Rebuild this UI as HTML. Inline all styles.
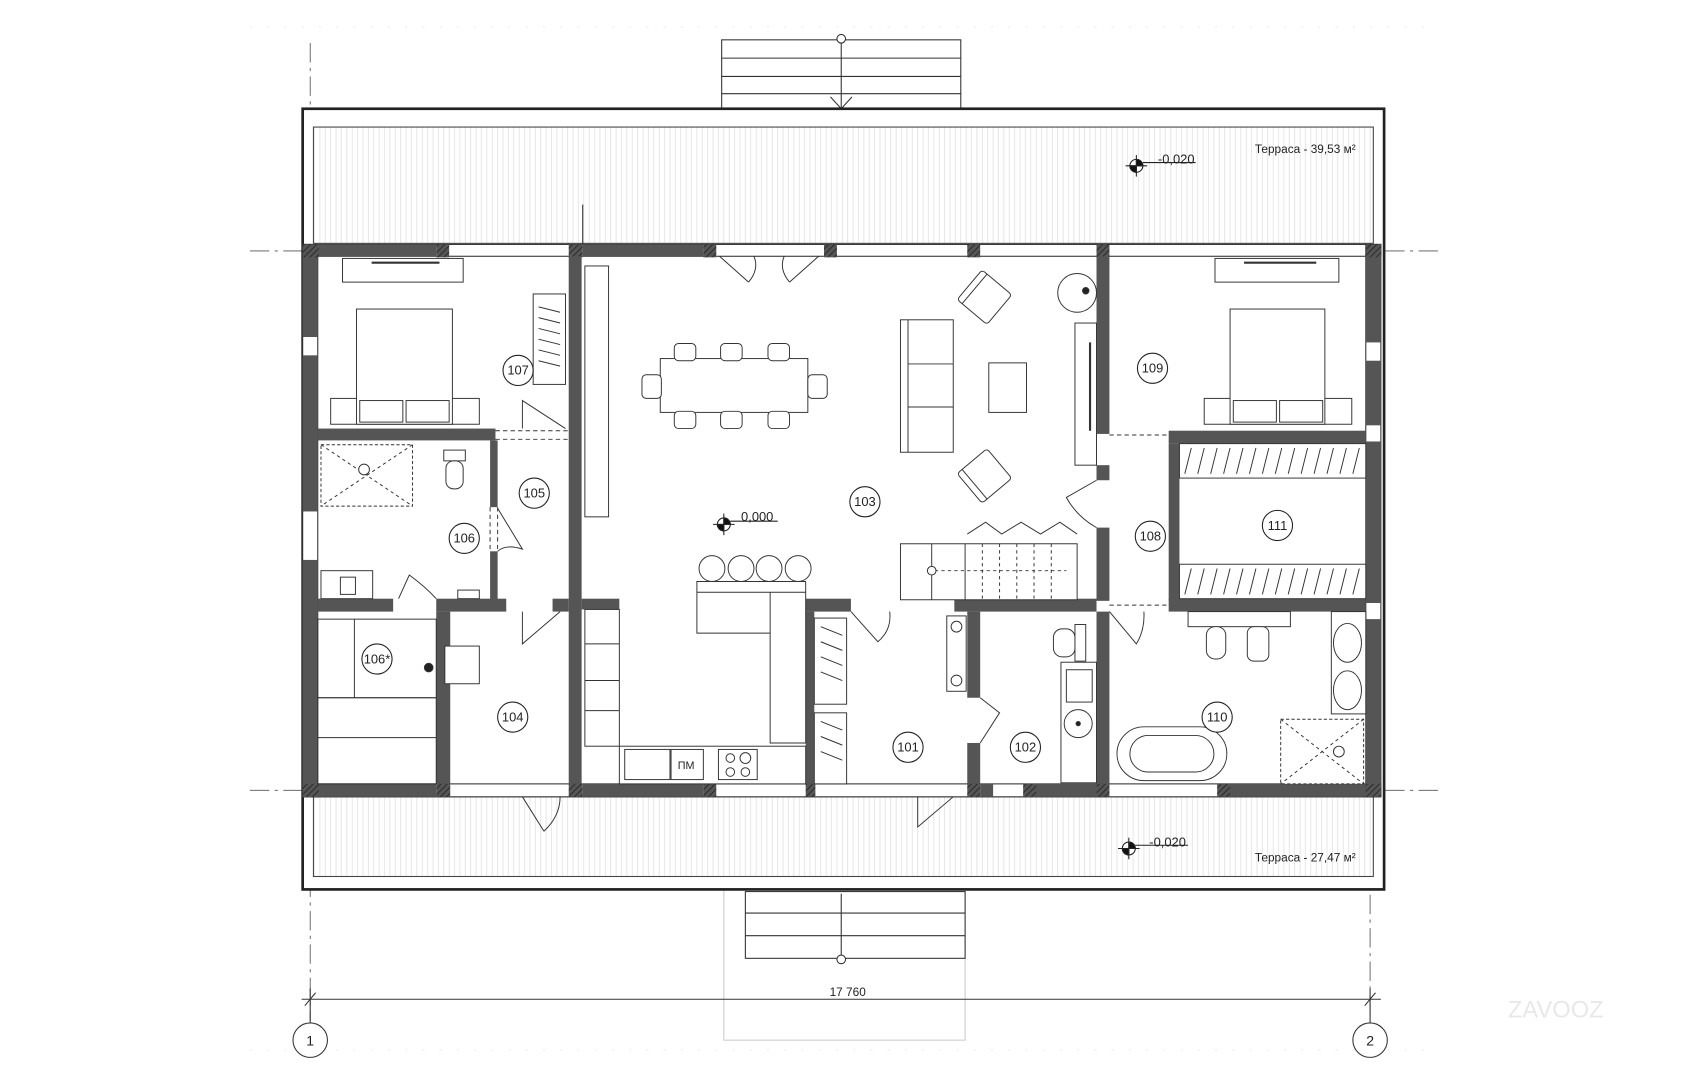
<!DOCTYPE html>
<html><head><meta charset="utf-8"><style>
html,body{margin:0;padding:0;background:#fff;width:1690px;height:1080px;overflow:hidden}
svg{display:block}
text{font-family:"Liberation Sans",sans-serif;fill:#222}
</style></head><body>
<svg width="1690" height="1080" viewBox="0 0 1569 1003" preserveAspectRatio="none" xmlns="http://www.w3.org/2000/svg">
<defs>
<pattern id="vh" width="5" height="10" patternUnits="userSpaceOnUse"><line x1="2" y1="0" x2="2" y2="10" stroke="#ddd" stroke-width="0.7"/></pattern>
<pattern id="hat" width="4" height="4" patternUnits="userSpaceOnUse" patternTransform="rotate(45)"><rect width="4" height="4" fill="#555"/><line x1="0" y1="0" x2="0" y2="4" stroke="#222" stroke-width="1.5"/></pattern>
</defs>
<rect width="1569" height="1003" fill="#fff"/>
<g stroke="#eee" stroke-width="1" stroke-dasharray="2 14">
<line x1="232" y1="25" x2="1330" y2="25"/><line x1="232" y1="975" x2="1330" y2="975"/>
</g>
<g stroke="#555" stroke-width="0.8" stroke-dasharray="18 5 3 5" fill="none">
<line x1="232" y1="233" x2="1335" y2="233"/><line x1="232" y1="734" x2="1335" y2="734"/>
<line x1="288" y1="40" x2="288" y2="948"/><line x1="1272" y1="800" x2="1272" y2="948"/>
</g>
<g stroke="#333" stroke-width="1" fill="#fff">
<rect x="670" y="37" width="222" height="64"/>
<line x1="670" y1="54" x2="892" y2="54"/><line x1="670" y1="71" x2="892" y2="71"/><line x1="670" y1="87" x2="892" y2="87"/>
<line x1="781" y1="40" x2="781" y2="101"/><circle cx="781" cy="36" r="4"/>
<polyline points="771,90 781,101 791,90" fill="none"/>
</g>
<g stroke="#333" stroke-width="1" fill="#fff">
<rect x="672" y="826" width="224" height="140" stroke="#ccc"/>
<rect x="692" y="828" width="204" height="62"/>
<line x1="692" y1="848" x2="896" y2="848"/><line x1="692" y1="869" x2="896" y2="869"/>
<line x1="781" y1="830" x2="781" y2="887"/><circle cx="781" cy="891" r="4"/>
</g>
<rect x="281" y="101" width="1004" height="725" fill="#fff" stroke="#222" stroke-width="2.5"/>
<rect x="291" y="118" width="984" height="108" fill="url(#vh)" stroke="#444" stroke-width="1"/>
<rect x="291" y="740" width="984" height="74" fill="url(#vh)" stroke="#444" stroke-width="1"/>
<line x1="541" y1="190" x2="541" y2="228" stroke="#333"/>
<rect x="281" y="228" width="1001" height="512" fill="#fff"/>
<g fill="#fff" stroke="#333" stroke-width="1">
<rect x="281" y="227" width="1001" height="11"/>
<rect x="281" y="728" width="1001" height="12"/>
<rect x="281" y="227" width="14" height="513"/>
<rect x="1268" y="227" width="14" height="513"/>
</g>
<g fill="#555">
<rect x="295" y="227" width="110" height="11"/><rect x="541" y="227" width="112" height="11"/>
<rect x="281" y="238" width="14" height="75"/><rect x="281" y="330" width="14" height="145"/><rect x="281" y="520" width="14" height="220"/>
<rect x="1268" y="238" width="14" height="80"/><rect x="1268" y="335" width="14" height="60"/><rect x="1268" y="410" width="14" height="150"/><rect x="1268" y="575" width="14" height="165"/>
<rect x="541" y="728" width="112" height="12"/>
<rect x="295" y="728" width="110" height="12"/>
<rect x="910" y="728" width="12" height="12"/>
<rect x="1140" y="728" width="128" height="12"/><rect x="950" y="728" width="68" height="12"/>
</g>
<g fill="url(#hat)">
<rect x="281" y="227" width="15" height="12"/><rect x="405" y="227" width="12" height="12"/><rect x="528" y="227" width="13" height="12"/>
<rect x="653" y="227" width="12" height="12"/><rect x="765" y="227" width="12" height="12"/><rect x="898" y="227" width="12" height="12"/>
<rect x="1018" y="227" width="12" height="12"/><rect x="1268" y="227" width="14" height="12"/>
<rect x="281" y="728" width="15" height="12"/><rect x="405" y="728" width="13" height="12"/><rect x="528" y="728" width="13" height="12"/>
<rect x="653" y="728" width="12" height="12"/><rect x="748" y="728" width="9" height="12"/><rect x="898" y="728" width="12" height="12"/>
<rect x="950" y="728" width="12" height="12"/><rect x="1018" y="728" width="12" height="12"/><rect x="1130" y="728" width="12" height="12"/><rect x="1268" y="728" width="14" height="12"/>
</g>
<g fill="#555">
<rect x="528" y="238" width="12" height="490"/>
<rect x="295" y="398" width="165" height="11"/>
<rect x="455" y="409" width="7" height="62"/><rect x="455" y="512" width="7" height="46"/>
<rect x="295" y="556" width="70" height="12"/><rect x="405" y="556" width="65" height="12"/><rect x="513" y="556" width="15" height="12"/>
<rect x="405" y="568" width="13" height="160"/>
<rect x="540" y="556" width="35" height="10"/>
<rect x="748" y="556" width="42" height="12"/><rect x="886" y="556" width="132" height="12"/>
<rect x="748" y="568" width="8" height="160"/>
<rect x="898" y="568" width="12" height="80"/><rect x="898" y="690" width="12" height="38"/>
<rect x="1018" y="238" width="12" height="165"/><rect x="1018" y="432" width="12" height="14"/><rect x="1018" y="490" width="12" height="68"/><rect x="1018" y="568" width="12" height="160"/>
<rect x="1085" y="400" width="183" height="12"/><rect x="1085" y="412" width="10" height="146"/>
<rect x="1085" y="556" width="183" height="12"/>
</g>
<g stroke="#333" stroke-width="0.9" fill="none" stroke-dasharray="4 3">
<line x1="460" y1="400" x2="528" y2="400"/><line x1="460" y1="408" x2="528" y2="408"/>
<line x1="1030" y1="404" x2="1085" y2="404"/><line x1="1030" y1="562" x2="1085" y2="562"/>
<line x1="455" y1="471" x2="455" y2="512"/><line x1="462" y1="471" x2="462" y2="512"/>
</g>
<g stroke="#333" stroke-width="0.9" fill="none">
<path d="M668 238 L695 262 M695 262 Q705 250 700 238"/><path d="M760 238 L733 262 M733 262 Q723 250 728 238"/>
<path d="M485 398 L485 372 L525 398"/><path d="M462 472 L485 510 Q470 505 462 512"/>
<path d="M370 556 L380 534 Q395 545 405 556"/><path d="M485 568 L485 598 L520 568"/>
<path d="M790 568 L815 596 Q828 585 826 568"/><path d="M910 648 L928 662 L910 690"/>
<path d="M1030 568 L1055 598 Q1063 585 1062 568"/>
<path d="M1018 446 L990 462 Q1000 480 1018 490"/>
<path d="M485 740 L505 772 M505 772 Q520 758 520 740"/><path d="M852 740 L852 768 L885 740"/>
<path d="M898 496 L915 485 L930 496 L948 485 L966 496 L984 485 L1000 496"/>
</g>
<g stroke="#333" stroke-width="0.9" fill="#fff">
<rect x="318" y="240" width="112" height="22"/><line x1="345" y1="244" x2="408" y2="244" stroke-width="2"/>
<rect x="307" y="370" width="138" height="24"/>
<rect x="331" y="287" width="89" height="107"/>
<rect x="334" y="372" width="40" height="20"/><rect x="377" y="372" width="40" height="20"/>
<rect x="495" y="273" width="30" height="84"/>
<path d="M500 285 L520 290 M500 295 L520 300 M500 305 L520 310 M500 315 L520 320 M500 325 L520 330 M500 335 L520 340"/>
<rect x="298" y="413" width="85" height="57" stroke-dasharray="3 2"/><path d="M298 413 L383 470 M383 413 L298 470" stroke-dasharray="3 3"/>
<circle cx="338" cy="436" r="5"/>
<rect x="412" y="418" width="20" height="10"/><rect x="414" y="428" width="16" height="26" rx="7"/>
<rect x="298" y="530" width="48" height="26"/><rect x="316" y="536" width="14" height="16"/>
<rect x="425" y="548" width="20" height="8"/>
<rect x="295" y="575" width="110" height="73" fill="none"/><line x1="329" y1="575" x2="329" y2="648"/>
<rect x="295" y="648" width="110" height="80" fill="none"/><line x1="295" y1="685" x2="405" y2="685"/>
<rect x="413" y="600" width="32" height="35"/><circle cx="398" cy="620" r="4" fill="#222"/>
</g>
<g stroke="#333" stroke-width="0.9" fill="#fff">
<rect x="543" y="247" width="22" height="233"/>
<rect x="613" y="333" width="137" height="50"/>
<g><rect x="626" y="319" width="20" height="16" rx="4"/><rect x="669" y="319" width="20" height="16" rx="4"/><rect x="713" y="319" width="20" height="16" rx="4"/>
<rect x="626" y="382" width="20" height="16" rx="4"/><rect x="669" y="382" width="20" height="16" rx="4"/><rect x="713" y="382" width="20" height="16" rx="4"/>
<rect x="596" y="348" width="18" height="22" rx="4"/><rect x="750" y="348" width="18" height="22" rx="4"/></g>
<rect x="836" y="297" width="49" height="123"/><line x1="843" y1="297" x2="843" y2="420"/><line x1="843" y1="338" x2="885" y2="338"/><line x1="843" y1="378" x2="885" y2="378"/>
<rect x="918" y="337" width="35" height="46"/>
<g transform="rotate(40 914 276)"><rect x="896" y="258" width="36" height="36" rx="3"/><line x1="902" y1="258" x2="902" y2="294"/></g>
<g transform="rotate(-40 914 442)"><rect x="896" y="424" width="36" height="36" rx="3"/><line x1="902" y1="424" x2="902" y2="460"/></g>
<circle cx="1000" cy="272" r="18"/><circle cx="1008" cy="270" r="3" fill="#222"/>
<rect x="998" y="300" width="20" height="132"/><line x1="1012" y1="318" x2="1012" y2="400" stroke-width="2"/>
<rect x="836" y="505" width="164" height="52"/><line x1="865" y1="505" x2="865" y2="557"/><line x1="896" y1="505" x2="896" y2="557"/>
<path d="M912 505 V557 M928 505 V557 M944 505 V557 M960 505 V557 M976 505 V557" stroke-dasharray="3 3"/>
<line x1="868" y1="530" x2="990" y2="530" stroke-dasharray="3 3"/><circle cx="865" cy="530" r="4"/>
<path d="M647 540 H748 V690 H715 V588 H647 Z"/><line x1="647" y1="550" x2="748" y2="550"/><line x1="715" y1="550" x2="715" y2="588"/>
<circle cx="661" cy="528" r="12"/><circle cx="688" cy="528" r="12"/><circle cx="714" cy="528" r="12"/><circle cx="741" cy="528" r="12"/>
<rect x="543" y="566" width="32" height="127"/><line x1="543" y1="598" x2="575" y2="598"/><line x1="543" y1="632" x2="575" y2="632"/><line x1="543" y1="660" x2="575" y2="660"/>
<rect x="575" y="693" width="173" height="35"/>
<rect x="580" y="696" width="42" height="28"/><rect x="623" y="696" width="30" height="28"/><rect x="667" y="696" width="36" height="28"/>
<circle cx="678" cy="704" r="4"/><circle cx="692" cy="704" r="5"/><circle cx="678" cy="717" r="4"/><circle cx="692" cy="717" r="4"/>
<rect x="756" y="574" width="30" height="80"/><rect x="756" y="662" width="30" height="66"/>
<path d="M762 582 L782 590 M762 596 L782 604 M762 610 L782 618 M762 624 L782 632 M762 670 L782 678 M762 684 L782 692 M762 698 L782 706"/>
<rect x="879" y="572" width="18" height="70"/><circle cx="888" cy="582" r="5"/><circle cx="888" cy="632" r="5"/>
<rect x="978" y="584" width="20" height="26" rx="8"/><rect x="998" y="580" width="10" height="34"/>
<rect x="985" y="615" width="33" height="112"/><rect x="990" y="622" width="24" height="30"/><circle cx="1001" cy="672" r="13"/><circle cx="1001" cy="672" r="2" fill="#222"/>
<rect x="1128" y="240" width="115" height="22"/><line x1="1155" y1="244" x2="1222" y2="244" stroke-width="2"/>
<rect x="1118" y="370" width="137" height="24"/><rect x="1142" y="287" width="88" height="107"/>
<rect x="1145" y="372" width="40" height="20"/><rect x="1188" y="372" width="40" height="20"/>
<rect x="1095" y="412" width="173" height="32"/><rect x="1095" y="524" width="173" height="32"/>
<path d="M1100 440 L1106 416 M1112 440 L1118 416 M1124 440 L1130 416 M1136 440 L1142 416 M1148 440 L1154 416 M1160 440 L1166 416 M1172 440 L1178 416 M1184 440 L1190 416 M1196 440 L1202 416 M1208 440 L1214 416 M1220 440 L1226 416 M1232 440 L1238 416 M1244 440 L1250 416 M1256 440 L1262 416"/>
<path d="M1100 552 L1106 528 M1112 552 L1118 528 M1124 552 L1130 528 M1136 552 L1142 528 M1148 552 L1154 528 M1160 552 L1166 528 M1172 552 L1178 528 M1184 552 L1190 528 M1196 552 L1202 528 M1208 552 L1214 528 M1220 552 L1226 528 M1232 552 L1238 528 M1244 552 L1250 528 M1256 552 L1262 528"/>
<rect x="1103" y="568" width="95" height="14"/>
<rect x="1120" y="582" width="18" height="30" rx="8"/><rect x="1158" y="582" width="20" height="32" rx="6"/>
<rect x="1236" y="568" width="32" height="95"/><ellipse cx="1251" cy="597" rx="13" ry="18"/><ellipse cx="1251" cy="641" rx="13" ry="18"/>
<rect x="1189" y="668" width="77" height="60" stroke-dasharray="3 2"/><path d="M1189 668 L1266 728 M1266 668 L1189 728" stroke-dasharray="3 3"/><circle cx="1243" cy="698" r="5"/>
<rect x="1037" y="675" width="102" height="50" rx="25"/><rect x="1049" y="683" width="78" height="34" rx="17"/>
</g>
<g fill="#fff" stroke="#222" stroke-width="1">
<circle cx="481" cy="344" r="14"/><circle cx="496" cy="458" r="14"/><circle cx="431" cy="500" r="14"/><circle cx="350" cy="612" r="14"/>
<circle cx="476" cy="666" r="14"/><circle cx="803" cy="466" r="14"/><circle cx="1070" cy="342" r="14"/><circle cx="1068" cy="498" r="14"/>
<circle cx="1186" cy="488" r="14"/><circle cx="843" cy="694" r="14"/><circle cx="952" cy="694" r="14"/><circle cx="1130" cy="666" r="14"/>
</g>
<g font-size="12" text-anchor="middle">
<text x="481" y="348">107</text><text x="496" y="462">105</text><text x="431" y="504">106</text><text x="350" y="616">106*</text>
<text x="476" y="670">104</text><text x="803" y="470">103</text><text x="1070" y="346">109</text><text x="1068" y="502">108</text>
<text x="1186" y="492">111</text><text x="843" y="698">101</text><text x="952" y="698">102</text><text x="1130" y="670">110</text>
<text x="637" y="714" font-size="10">ПМ</text>
</g>
<g stroke="#222" stroke-width="1">
<g transform="translate(672,487)"><circle r="6" fill="#fff"/><path d="M0 -6 A6 6 0 0 1 6 0 L0 0Z M0 6 A6 6 0 0 1 -6 0 L0 0Z" fill="#111"/><line x1="-10" y1="0" x2="10" y2="0"/><line x1="0" y1="-10" x2="0" y2="10"/><line x1="6" y1="-3" x2="50" y2="-3"/></g>
<g transform="translate(1055,154)"><circle r="6" fill="#fff"/><path d="M0 -6 A6 6 0 0 1 6 0 L0 0Z M0 6 A6 6 0 0 1 -6 0 L0 0Z" fill="#111"/><line x1="-10" y1="0" x2="10" y2="0"/><line x1="0" y1="-10" x2="0" y2="10"/><line x1="6" y1="-3" x2="55" y2="-3"/></g>
<g transform="translate(1048,788)"><circle r="6" fill="#fff"/><path d="M0 -6 A6 6 0 0 1 6 0 L0 0Z M0 6 A6 6 0 0 1 -6 0 L0 0Z" fill="#111"/><line x1="-10" y1="0" x2="10" y2="0"/><line x1="0" y1="-10" x2="0" y2="10"/><line x1="6" y1="-3" x2="55" y2="-3"/></g>
</g>
<g font-size="12">
<text x="688" y="484">0,000</text><text x="1075" y="152">-0,020</text><text x="1067" y="786">-0,020</text>
<text x="1165" y="142" font-size="11">Терраса - 39,53 м²</text><text x="1165" y="800" font-size="11">Терраса - 27,47 м²</text>
</g>
<g stroke="#333" stroke-width="1">
<line x1="280" y1="928" x2="1282" y2="928"/><line x1="283" y1="934" x2="293" y2="922"/><line x1="1267" y1="934" x2="1277" y2="922"/>
<line x1="288" y1="918" x2="288" y2="950"/><line x1="1272" y1="918" x2="1272" y2="950"/>
<circle cx="288" cy="966" r="16" fill="#fff"/><circle cx="1272" cy="966" r="16" fill="#fff"/>
</g>
<text x="787" y="925" font-size="11" text-anchor="middle">17 760</text>
<text x="288" y="971" font-size="13" text-anchor="middle">1</text><text x="1272" y="971" font-size="13" text-anchor="middle">2</text>
<text x="1400" y="945" font-size="22" style="fill:#e8e8e8">ZAVOOZ</text>
</svg>
</body></html>
